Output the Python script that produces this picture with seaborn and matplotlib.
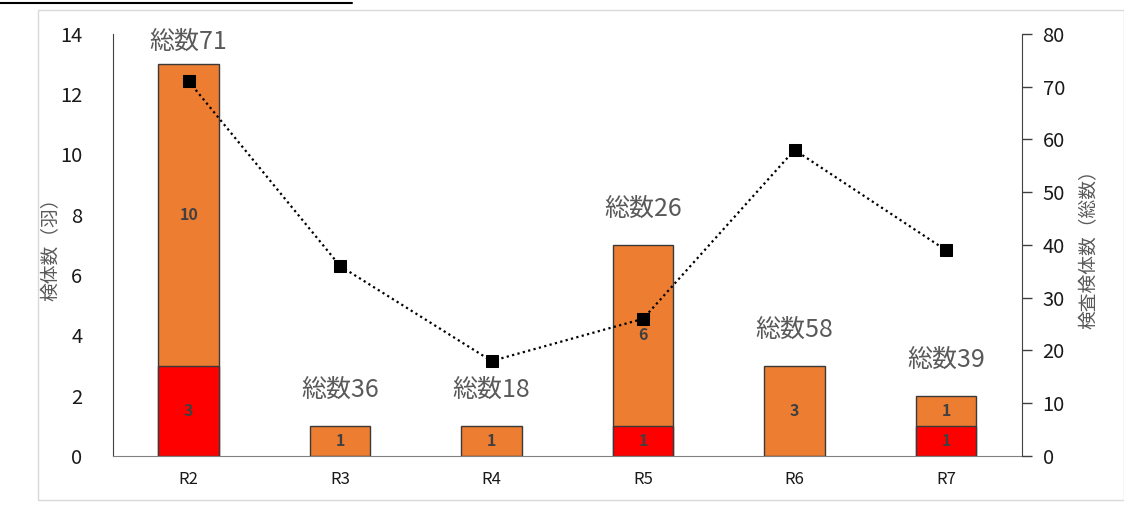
import numpy as np
import pandas as pd
import matplotlib
matplotlib.use("Agg")
import matplotlib.pyplot as plt
import seaborn as sns
from matplotlib.lines import Line2D
from matplotlib.patches import Rectangle

# Chart data
categories = ["R2", "R3", "R4", "R5", "R6", "R7"]
red_counts = [3, 0, 0, 1, 0, 1]
orange_counts = [10, 1, 1, 6, 3, 1]
total_tested = [71, 36, 18, 26, 58, 39]

RED = "#FF0000"
ORANGE = "#ED7D31"
EDGE = "#3A3A3A"
GRAY_TEXT = "#595959"

sns.set_style("white")
plt.rcParams['font.family'] = ['Noto Sans CJK JP', 'DejaVu Sans']

df = pd.DataFrame({
    "year": categories,
    "red": red_counts,
    "orange": orange_counts,
    "tested": total_tested,
})
df["stack"] = df["red"] + df["orange"]

fig = plt.figure(figsize=(11.24, 5.05), dpi=100)
ax = fig.add_axes([0.1005, 0.097, 0.8085, 0.836])

# stacked bars: full height in orange, red part drawn on top
sns.barplot(data=df, x="year", y="stack", color=ORANGE, width=0.4,
            edgecolor=EDGE, linewidth=1.0, saturation=1, ax=ax)
sns.barplot(data=df[df["red"] > 0], x="year", y="red", order=categories,
            color=RED, width=0.4, edgecolor=EDGE, linewidth=1.0,
            saturation=1, ax=ax)

ax.set_ylim(0, 14)
ax.set_xlim(-0.5, len(categories) - 0.5)
ax.set_yticks(np.arange(0, 15, 2))
ax.set_xlabel("")
ax.set_ylabel("検体数（羽）", fontsize=13.5, color=GRAY_TEXT, labelpad=-1)
ax.tick_params(axis="y", length=0, labelsize=14.5, pad=22, labelcolor="#1a1a1a")
ax.tick_params(axis="x", length=0, labelsize=12, pad=11, labelcolor="#1a1a1a")
for s in ["top", "right"]:
    ax.spines[s].set_visible(False)
ax.spines["left"].set_color("#404040")
ax.spines["bottom"].set_color("#808080")

# segment labels
for i, row in df.iterrows():
    if row["red"] > 0:
        ax.text(i, row["red"] / 2, str(row["red"]), ha="center", va="center",
                fontsize=11.5, fontweight="bold", color="#404040")
    ax.text(i, row["red"] + row["orange"] / 2, str(row["orange"]),
            ha="center", va="center", fontsize=11.5, fontweight="bold",
            color="#404040")
    ax.text(i, min(row["stack"] + 0.75, 13.3), f"総数{row['tested']}",
            ha="center", va="bottom", fontsize=18, color=GRAY_TEXT)

# secondary axis: total tested
ax2 = ax.twinx()
sns.lineplot(x=np.arange(len(categories)), y=df["tested"], ax=ax2,
             color="black", linestyle=(0, (1, 1.5)), linewidth=1.6,
             marker="s", markersize=9, markeredgecolor="black")
ax2.set_ylim(0, 80)
ax2.set_yticks(np.arange(0, 81, 10))
ax2.set_ylabel("検査検体数（総数）", fontsize=13.5, color=GRAY_TEXT, labelpad=10)
ax2.tick_params(axis="y", length=7, width=1, color="#404040", labelsize=14.5,
                pad=8, direction="out", labelcolor="#1a1a1a")
for s in ["top", "left", "bottom"]:
    ax2.spines[s].set_visible(False)
ax2.spines["right"].set_color("#404040")

# chart frame and stray line at the top
fig.add_artist(Rectangle((38 / 1124, 5 / 505), 1 - 38 / 1124, 1 - 15 / 505,
                         transform=fig.transFigure, fill=False,
                         edgecolor="#D9D9D9", linewidth=1))
fig.add_artist(Line2D([0, 352 / 1124], [1 - 2.5 / 505, 1 - 2.5 / 505],
                      transform=fig.transFigure, color="black", linewidth=1.5))

fig.savefig("out.png", dpi=100)
